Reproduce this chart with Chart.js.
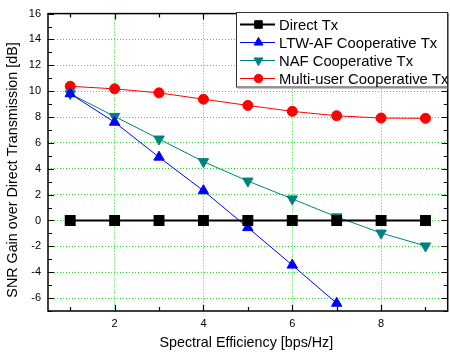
<!DOCTYPE html>
<html><head><meta charset="utf-8">
<script src="https://cdn.jsdelivr.net/npm/chart.js@4.4.1/dist/chart.umd.min.js"></script>
<style>
html,body{margin:0;padding:0;background:#fff;overflow:hidden;}
#wrap{width:450px;height:354px;overflow:hidden;position:relative;}
canvas{display:block;}
</style></head>
<body><div id="wrap"><canvas id="c" width="456" height="354"></canvas></div>
<script>
const spectralEfficiency = [1,2,3,4,5,6,7,8,9];
const directTx = [0,0,0,0,0,0,0,0,0];
const ltwAfTx = [9.8,7.6,4.9,2.3,-0.55,-3.45,-6.4];
const nafTx = [9.8,8.05,6.3,4.55,3.05,1.67,0.28,-0.97,-1.97];
const multiUserTx = [10.38,10.18,9.87,9.38,8.9,8.44,8.1,7.92,7.9];
const seriesLabels = ['Direct Tx','LTW-AF Cooperative Tx','NAF Cooperative Tx','Multi-user Cooperative Tx'];
const xTickLabels = [2,4,6,8];
const yTickLabels = [-6,-4,-2,0,2,4,6,8,10,12,14,16];
const xTitle = 'Spectral Efficiency [bps/Hz]';
const yTitle = 'SNR Gain over Direct Transmission [dB]';

const pts = (vals) => vals.map((v,i)=>({x:spectralEfficiency[i], y:v}));
const FONT = '"Liberation Sans", Arial, sans-serif';

const framePlugin = {
  id:'frame',
  afterDatasetsDraw(chart){
    const {ctx, chartArea:a, scales:{x,y}} = chart;
    ctx.save();
    ctx.strokeStyle='#000'; ctx.lineWidth=1.5;
    ctx.strokeRect(a.left, a.top, a.right-a.left, a.bottom-a.top);
    ctx.lineWidth=1.2;
    ctx.beginPath();
    for(let v=1; v<=9; v++){
      const px=Math.round(x.getPixelForValue(v))+0.5;
      const L = (v%2===0)?6:4;
      ctx.moveTo(px,a.bottom); ctx.lineTo(px,a.bottom-L);
      ctx.moveTo(px,a.top); ctx.lineTo(px,a.top+L);
    }
    for(let v=-7; v<=16; v++){
      const py=Math.round(y.getPixelForValue(v))+0.5;
      const L = (v%2===0)?6:4;
      ctx.moveTo(a.left,py); ctx.lineTo(a.left+L,py);
      ctx.moveTo(a.right,py); ctx.lineTo(a.right-L,py);
    }
    ctx.stroke();
    // titles
    ctx.fillStyle='#000';
    ctx.font='14.3px '+FONT;
    ctx.textAlign='center'; ctx.textBaseline='middle';
    ctx.fillText(xTitle, (a.left+a.right)/2 - 1.5, 343);
    ctx.save();
    ctx.translate(13, 170);
    ctx.rotate(-Math.PI/2);
    ctx.fillText(yTitle, 0, 0);
    ctx.restore();
    // legend
    const bx=236.5, by=12.5, bw=211, bh=74.5;
    ctx.fillStyle='#fff';
    ctx.fillRect(bx,by,bw,bh);
    ctx.strokeStyle='#333'; ctx.lineWidth=1;
    ctx.strokeRect(bx,by,bw,bh);
    ctx.strokeStyle='#888';
    ctx.beginPath();
    ctx.moveTo(bx+1,by+bh+1); ctx.lineTo(bx+bw+1,by+bh+1); ctx.lineTo(bx+bw+1,by+1);
    ctx.stroke();
    chart.data.datasets.forEach((ds,i)=>{
      const ry = 24.5 + i*18;
      ctx.strokeStyle=ds.borderColor; ctx.lineWidth=ds.borderWidth;
      ctx.beginPath(); ctx.moveTo(240,ry); ctx.lineTo(275,ry); ctx.stroke();
      ctx.fillStyle=ds.pointBackgroundColor; ctx.strokeStyle=ds.pointBorderColor; ctx.lineWidth=1;
      Chart.helpers.drawPoint(ctx,{pointStyle:ds.pointStyle, radius:ds.pointRadius*0.85, rotation:ds.pointRotation||0, borderWidth:1}, 258.5, ry);
      ctx.fillStyle='#000';
      ctx.font='14.8px '+FONT;
      ctx.textAlign='left'; ctx.textBaseline='middle';
      ctx.fillText(ds.label, 279, ry+1);
    });
    ctx.restore();
  }
};

const gridColor = (vals) => (c) => (c.tick && vals.includes(c.tick.value) && c.tick.value!==16) ? '#22e822' : 'rgba(0,0,0,0)';

new Chart(document.getElementById('c'), {
  type:'line',
  data:{datasets:[
    {label:seriesLabels[0], data:pts(directTx), borderColor:'#000', backgroundColor:'#000', pointBackgroundColor:'#000', pointBorderColor:'#000', borderWidth:2, pointStyle:'rect', pointRadius:6.3},
    {label:seriesLabels[1], data:pts(ltwAfTx), borderColor:'#0000ff', backgroundColor:'#0000ff', pointBackgroundColor:'#0000ff', pointBorderColor:'#0000ff', borderWidth:1, pointStyle:'triangle', pointRadius:6},
    {label:seriesLabels[2], data:pts(nafTx), borderColor:'#008080', backgroundColor:'#008080', pointBackgroundColor:'#008080', pointBorderColor:'#008080', borderWidth:1, pointStyle:'triangle', pointRotation:180, pointRadius:6},
    {label:seriesLabels[3], data:pts(multiUserTx), borderColor:'#ff0000', backgroundColor:'#ff0000', pointBackgroundColor:'#ff0000', pointBorderColor:'#ff0000', borderWidth:1, pointStyle:'circle', pointRadius:5}
  ]},
  options:{
    responsive:false, animation:false, devicePixelRatio:1,
    layout:{padding:{top:12,right:2,left:0,bottom:0}},
    plugins:{legend:{display:false}, tooltip:{enabled:false}},
    elements:{line:{tension:0}},
    scales:{
      x:{type:'linear', min:0.5, max:9.5,
        afterBuildTicks:(s)=>{s.ticks = xTickLabels.map(v=>({value:v}));},
        afterFit:(s)=>{s.height=43;},
        grid:{color:gridColor(xTickLabels), lineWidth:1, drawTicks:false},
        border:{display:false, dash:[1,2]},
        ticks:{color:'#000', font:{family:FONT,size:11}, padding:6, maxRotation:0}
      },
      y:{type:'linear', min:-7, max:16,
        afterBuildTicks:(s)=>{s.ticks = yTickLabels.map(v=>({value:v}));},
        afterFit:(s)=>{s.width=48;},
        grid:{color:gridColor(yTickLabels), lineWidth:1, drawTicks:false},
        border:{display:false, dash:[1,2]},
        ticks:{color:'#000', font:{family:FONT,size:11}, padding:7}
      }
    }
  },
  plugins:[framePlugin]
});
</script></body></html>
